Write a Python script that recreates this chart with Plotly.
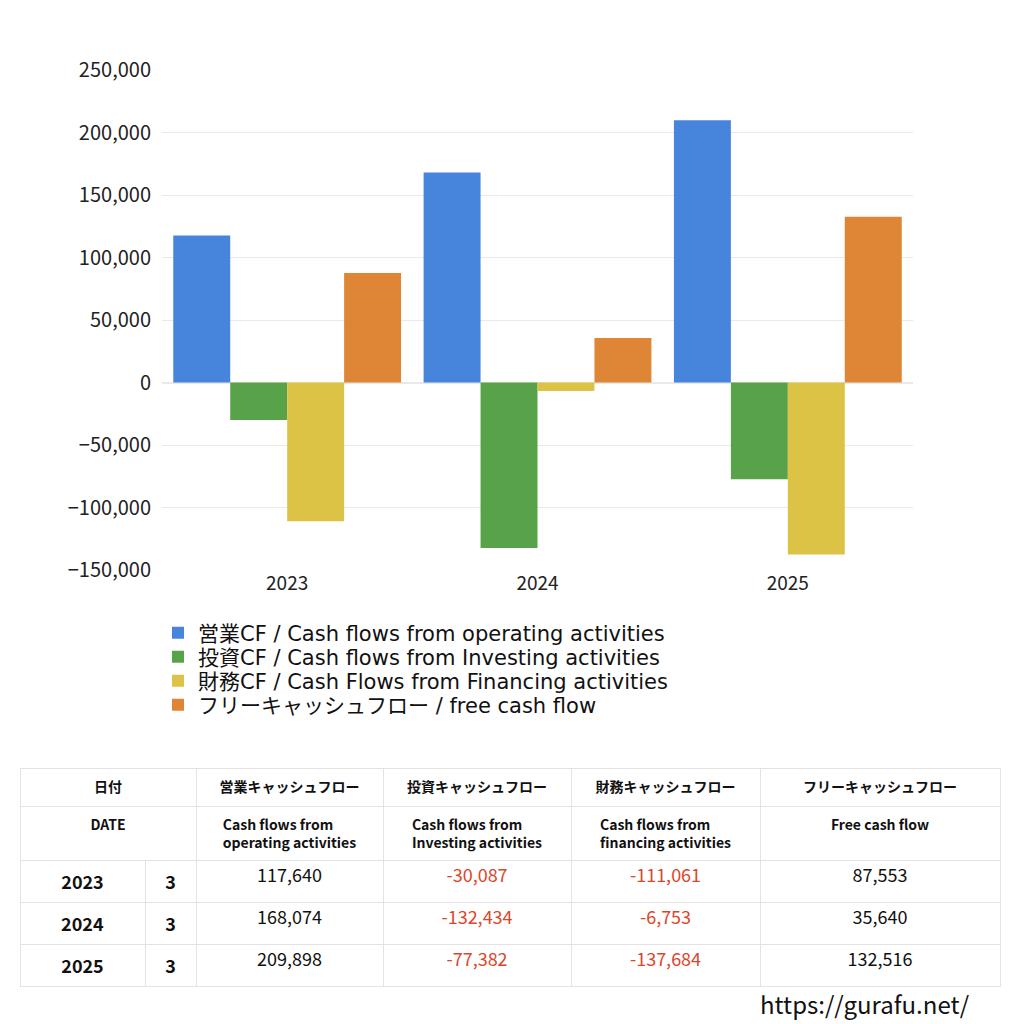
import plotly.graph_objects as go

# data
years = ["2023", "2024", "2025"]
months = ["3", "3", "3"]
operating_cf = [117640, 168074, 209898]
investing_cf = [-30087, -132434, -77382]
financing_cf = [-111061, -6753, -137684]
free_cf = [87553, 35640, 132516]

series_names = [
    "営業CF / Cash flows from operating activities",
    "投資CF / Cash flows from Investing activities",
    "財務CF / Cash Flows from Financing activities",
    "フリーキャッシュフロー / free cash flow",
]
colors = ["#4784dc", "#58a349", "#dcc345", "#df8636"]

head_jp = ["日付", "営業キャッシュフロー", "投資キャッシュフロー", "財務キャッシュフロー", "フリーキャッシュフロー"]
head_en = ["DATE", "Cash flows from<br>operating activities", "Cash flows from<br>Investing activities",
           "Cash flows from<br>financing activities", "Free cash flow"]

FONT = "Noto Sans CJK JP"
LEG_FONT = "DejaVu Sans, Noto Sans CJK JP"
W = 1024.0
OFF = 8  # page body margin
ink = "#111111"
red = "#d9472b"
grid = "#e3e3e3"


def px(v):
    return (v - OFF) / W


def py(v):
    return 1 - (v - OFF) / W


fig = go.Figure()
legend_ids = ["legend", "legend2", "legend3", "legend4"]
for name, vals, col, lg in zip(series_names, [operating_cf, investing_cf, financing_cf, free_cf], colors, legend_ids):
    fig.add_trace(go.Bar(x=years, y=vals, name=name, marker_color=col, marker_line_width=0, legend=lg))

# header table (two header rows)
fig.add_trace(go.Table(
    domain=dict(x=[px(20), px(1000)], y=[py(860), py(768)]),
    columnwidth=[176, 187, 188, 189, 240],
    header=dict(values=["<b>%s</b>" % h for h in head_jp], height=38, align="center",
                fill_color="white", line_color=grid,
                font=dict(family=FONT, size=14, color=ink)),
    cells=dict(values=[["<b>%s</b>" % h] for h in head_en], height=54, align="center",
               fill_color="white", line_color=grid,
               font=dict(family=FONT, size=14, color=ink)),
))

# data table
fmt = lambda v: f"{v:,}"
cols = [["<b>%s</b>" % y for y in years], ["<b>%s</b>" % m for m in months],
        [fmt(v) for v in operating_cf], [fmt(v) for v in investing_cf],
        [fmt(v) for v in financing_cf], [fmt(v) for v in free_cf]]
col_colors = [ink, ink, ink, red, red, ink]
fig.add_trace(go.Table(
    domain=dict(x=[px(20), px(1000)], y=[0, py(860)]),
    columnwidth=[125, 51, 187, 188, 189, 240],
    header=dict(values=[c[0] for c in cols], height=35, align="center", fill_color="white",
                line_color=grid, font=dict(family=FONT, size=18, color=col_colors)),
    cells=dict(values=[c[1:] for c in cols], height=35, align="center", fill_color="white",
               line_color=grid, font=dict(family=FONT, size=18, color=col_colors)),
))

fig.add_annotation(text="https://gurafu.net/", x=px(972), y=py(1003), xref="paper", yref="paper",
                   xanchor="right", yanchor="middle", showarrow=False,
                   font=dict(family=FONT, size=24, color=ink))

legend_style = dict(xanchor="left", yanchor="middle", bgcolor="rgba(0,0,0,0)",
                    font=dict(family=LEG_FONT, size=21, color=ink))
legend_y = [633, 657, 681, 705]

fig.update_layout(
    width=1024, height=1024,
    margin=dict(l=0, r=0, t=0, b=0, autoexpand=False),
    paper_bgcolor="white", plot_bgcolor="white",
    barmode="group", bargap=0.09, bargroupgap=0,
    font=dict(family=FONT, color="#222222"),
    xaxis=dict(domain=[px(162), px(913)], tickfont=dict(size=19), showline=False, ticks="",
               automargin=False),
    yaxis=dict(domain=[py(570), py(70)], range=[-150000, 250000], dtick=50000,
               tickformat=",d", tickfont=dict(size=20), gridcolor="#e9e9e9",
               zerolinecolor="#e9e9e9", showline=False, ticks="", automargin=False,
               ticklabelstandoff=10),
    showlegend=True,
)
for lg, ly in zip(legend_ids, legend_y):
    fig.update_layout({lg: dict(x=px(158), y=py(ly), **legend_style)})

fig.write_html("out.html")
